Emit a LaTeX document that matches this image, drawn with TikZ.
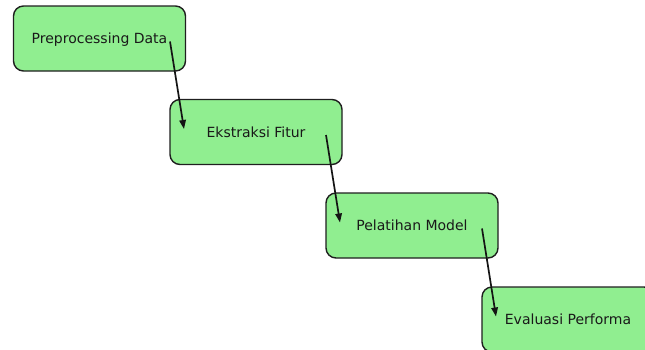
\documentclass[tikz,border=0pt]{standalone}
\usepackage{fontspec}
\setmainfont{DejaVu Sans}
\usetikzlibrary{arrows.meta}
\definecolor{lightgreenc}{HTML}{90EE90}
\tikzset{
  stagebox/.style={draw=black!88, line width=1.4pt, fill=lightgreenc, rounded corners=10pt,
    minimum width=172pt, minimum height=65pt, inner sep=0pt, text depth=0pt,
    font=\fontsize{14pt}{16pt}\selectfont, text=black!90},
  flowarrow/.style={draw=black!92, line width=1.7pt, -{Triangle[length=9pt,width=6.5pt]}}
}
\begin{document}
\begin{tikzpicture}[x=1pt, y=-1pt]
\useasboundingbox (0,0) rectangle (645,349);
\clip (0,0) rectangle (645,349);
\node[stagebox] (n1) at (99.5,38.5) {Preprocessing Data};
\node[stagebox] (n2) at (256,132) {Ekstraksi Fitur};
\node[stagebox] (n3) at (412,225.5) {Pelatihan Model};
\node[stagebox] (n4) at (568,319.5) {Evaluasi Performa};
\draw[flowarrow] ([shift={(70.5pt,-3pt)}]n1.center) -- ([shift={(-72pt,3pt)}]n2.center);
\draw[flowarrow] ([shift={(70pt,-3pt)}]n2.center) -- ([shift={(-72pt,3pt)}]n3.center);
\draw[flowarrow] ([shift={(70pt,-3pt)}]n3.center) -- ([shift={(-72pt,3pt)}]n4.center);
\end{tikzpicture}
\end{document}
